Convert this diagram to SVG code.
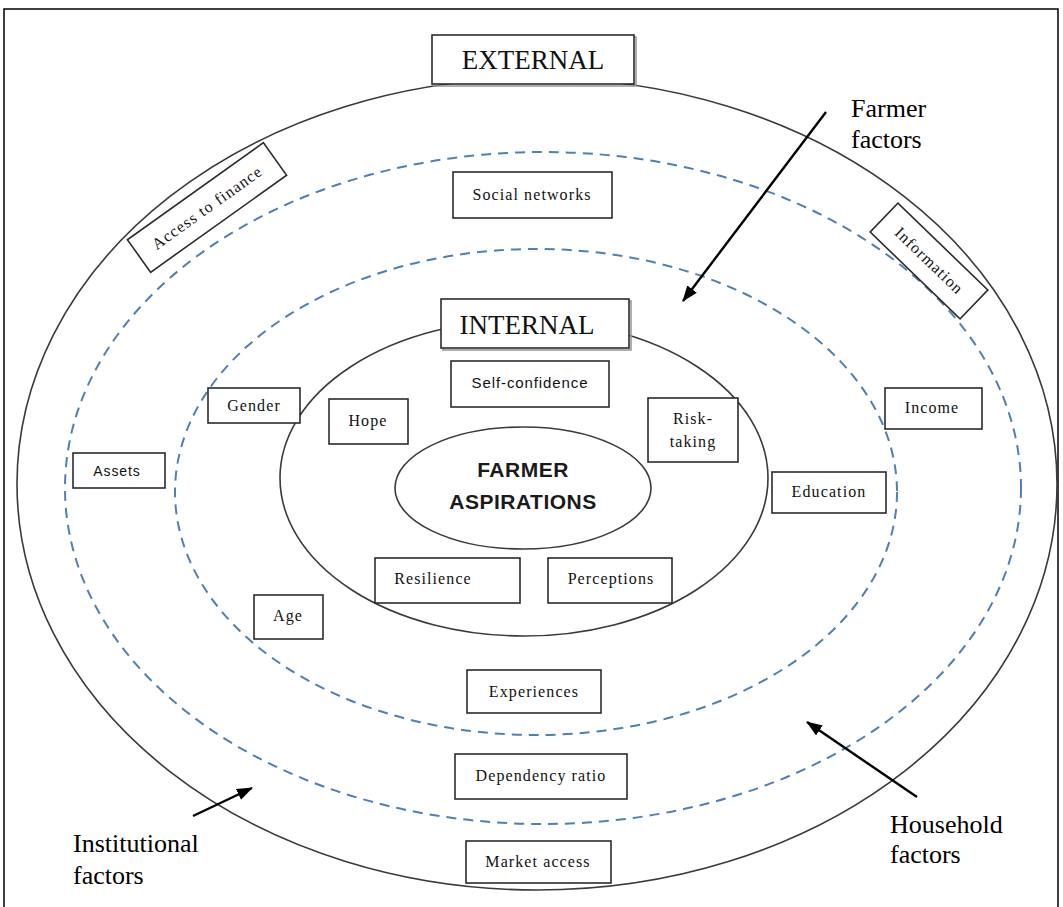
<svg xmlns="http://www.w3.org/2000/svg" width="1063" height="907" viewBox="0 0 1063 907">
<style>
.frame{fill:none;stroke:#000;stroke-width:1.5}
.ring{fill:none;stroke:#3a3a3a;stroke-width:1.6}
.dash{fill:none;stroke:#4f7fb3;stroke-width:2;stroke-dasharray:10 7}
.box{fill:#fff;stroke:#2b2b2b;stroke-width:1.6}
.shadow{fill:none;stroke:#9a9a9a;stroke-width:1.6}
.lbl{font-family:"Liberation Serif","Times New Roman",serif;font-size:16px;letter-spacing:1.1px;fill:#111;text-anchor:middle}
.lsans{font-family:"Liberation Sans",Arial,sans-serif;font-size:15px;letter-spacing:0.9px;fill:#111;text-anchor:middle}
.big{font-family:"Liberation Serif","Times New Roman",serif;font-size:27px;fill:#111;text-anchor:middle}
.note{font-family:"Liberation Serif","Times New Roman",serif;font-size:26px;fill:#000}
.core{font-family:"Liberation Sans",Arial,sans-serif;font-size:21px;font-weight:bold;fill:#1a1a1a;text-anchor:middle;letter-spacing:0.5px}
.arrow{stroke:#000;stroke-width:2.4;fill:none}
</style>
<defs>
<marker id="ah" viewBox="0 0 16 12" refX="15" refY="6" markerWidth="16" markerHeight="12" markerUnits="userSpaceOnUse" orient="auto">
<path d="M0,0 L16,6 L0,12 z" fill="#000"/>
</marker>
</defs>
<rect class="frame" x="4" y="9" width="1054" height="920"/>
<g id="rings">
<ellipse class="ring" cx="537" cy="484" rx="520" ry="406"/>
<ellipse class="dash" cx="543" cy="488" rx="478" ry="336"/>
<ellipse class="dash" cx="536" cy="492" rx="361" ry="243"/>
<ellipse class="ring" cx="524" cy="478" rx="244" ry="158"/>
</g>
<g id="core">
<ellipse class="ring" cx="523" cy="488" rx="128" ry="61" fill="#fff"/>
<text class="core" x="523" y="477">FARMER</text>
<text class="core" x="523" y="509">ASPIRATIONS</text>
</g>
<g id="external">
<rect class="shadow" x="434" y="37" width="202" height="49"/>
<rect class="box" x="432" y="35" width="202" height="49"/>
<text class="big" x="533" y="69">EXTERNAL</text>
</g>
<g id="internal">
<rect class="shadow" x="443" y="301" width="188" height="49"/>
<rect class="box" x="441" y="299" width="188" height="49"/>
<text class="big" x="527" y="334">INTERNAL</text>
</g>
<g id="social-networks">
<rect class="box" x="453" y="172" width="159" height="46"/>
<text class="lbl" x="532" y="200">Social networks</text>
</g>
<g id="access-to-finance" transform="rotate(-35.5 207 207.5)">
<rect class="box" x="123.5" y="187.5" width="167" height="40" stroke="#444"/>
<text class="lbl" x="207" y="213" fill="#444">Access to finance</text>
</g>
<g id="information" transform="rotate(44 929 261)">
<rect class="box" x="866.5" y="241" width="125" height="40" stroke="#444"/>
<text class="lbl" x="929" y="266" fill="#444">Information</text>
</g>
<g id="self-confidence">
<rect class="box" x="451" y="361" width="158" height="46"/>
<text class="lsans" x="530" y="388">Self-confidence</text>
</g>
<g id="gender">
<rect class="box" x="208" y="388" width="92" height="35"/>
<text class="lbl" x="254" y="411">Gender</text>
</g>
<g id="hope">
<rect class="box" x="329" y="399" width="79" height="45"/>
<text class="lbl" x="368" y="426">Hope</text>
</g>
<g id="risk-taking">
<rect class="box" x="648" y="398" width="90" height="64"/>
<text class="lbl" x="693" y="424">Risk-</text>
<text class="lbl" x="693" y="447">taking</text>
</g>
<g id="income">
<rect class="box" x="885" y="388" width="97" height="41"/>
<text class="lbl" x="932" y="413">Income</text>
</g>
<g id="assets">
<rect class="box" x="73" y="453" width="92" height="35"/>
<text class="lsans" x="117" y="476" style="font-size:14px">Assets</text>
</g>
<g id="education">
<rect class="box" x="772" y="472" width="114" height="41"/>
<text class="lbl" x="829" y="497">Education</text>
</g>
<g id="resilience">
<rect class="box" x="375" y="558" width="145" height="45"/>
<text class="lbl" x="433" y="584">Resilience</text>
</g>
<g id="perceptions">
<rect class="box" x="548" y="558" width="124" height="45"/>
<text class="lbl" x="611" y="584">Perceptions</text>
</g>
<g id="age">
<rect class="box" x="254" y="595" width="69" height="44"/>
<text class="lbl" x="288" y="621">Age</text>
</g>
<g id="experiences">
<rect class="box" x="467" y="670" width="134" height="43"/>
<text class="lbl" x="534" y="697">Experiences</text>
</g>
<g id="dependency-ratio">
<rect class="box" x="455" y="754" width="172" height="45"/>
<text class="lbl" x="541" y="781">Dependency ratio</text>
</g>
<g id="market-access">
<rect class="box" x="466" y="841" width="145" height="42"/>
<text class="lbl" x="538" y="867">Market access</text>
</g>
<g id="connectors">
<line class="arrow" x1="826" y1="112" x2="683" y2="301" marker-end="url(#ah)"/>
<line class="arrow" x1="917" y1="797" x2="807" y2="722" marker-end="url(#ah)"/>
<line class="arrow" x1="193" y1="816" x2="252" y2="788" marker-end="url(#ah)"/>
</g>
<g id="labels">
<text class="note" x="851" y="117">Farmer</text>
<text class="note" x="851" y="148">factors</text>
<text class="note" x="890" y="833">Household</text>
<text class="note" x="890" y="863">factors</text>
<text class="note" x="73" y="852">Institutional</text>
<text class="note" x="73" y="884">factors</text>
</g>
</svg>
